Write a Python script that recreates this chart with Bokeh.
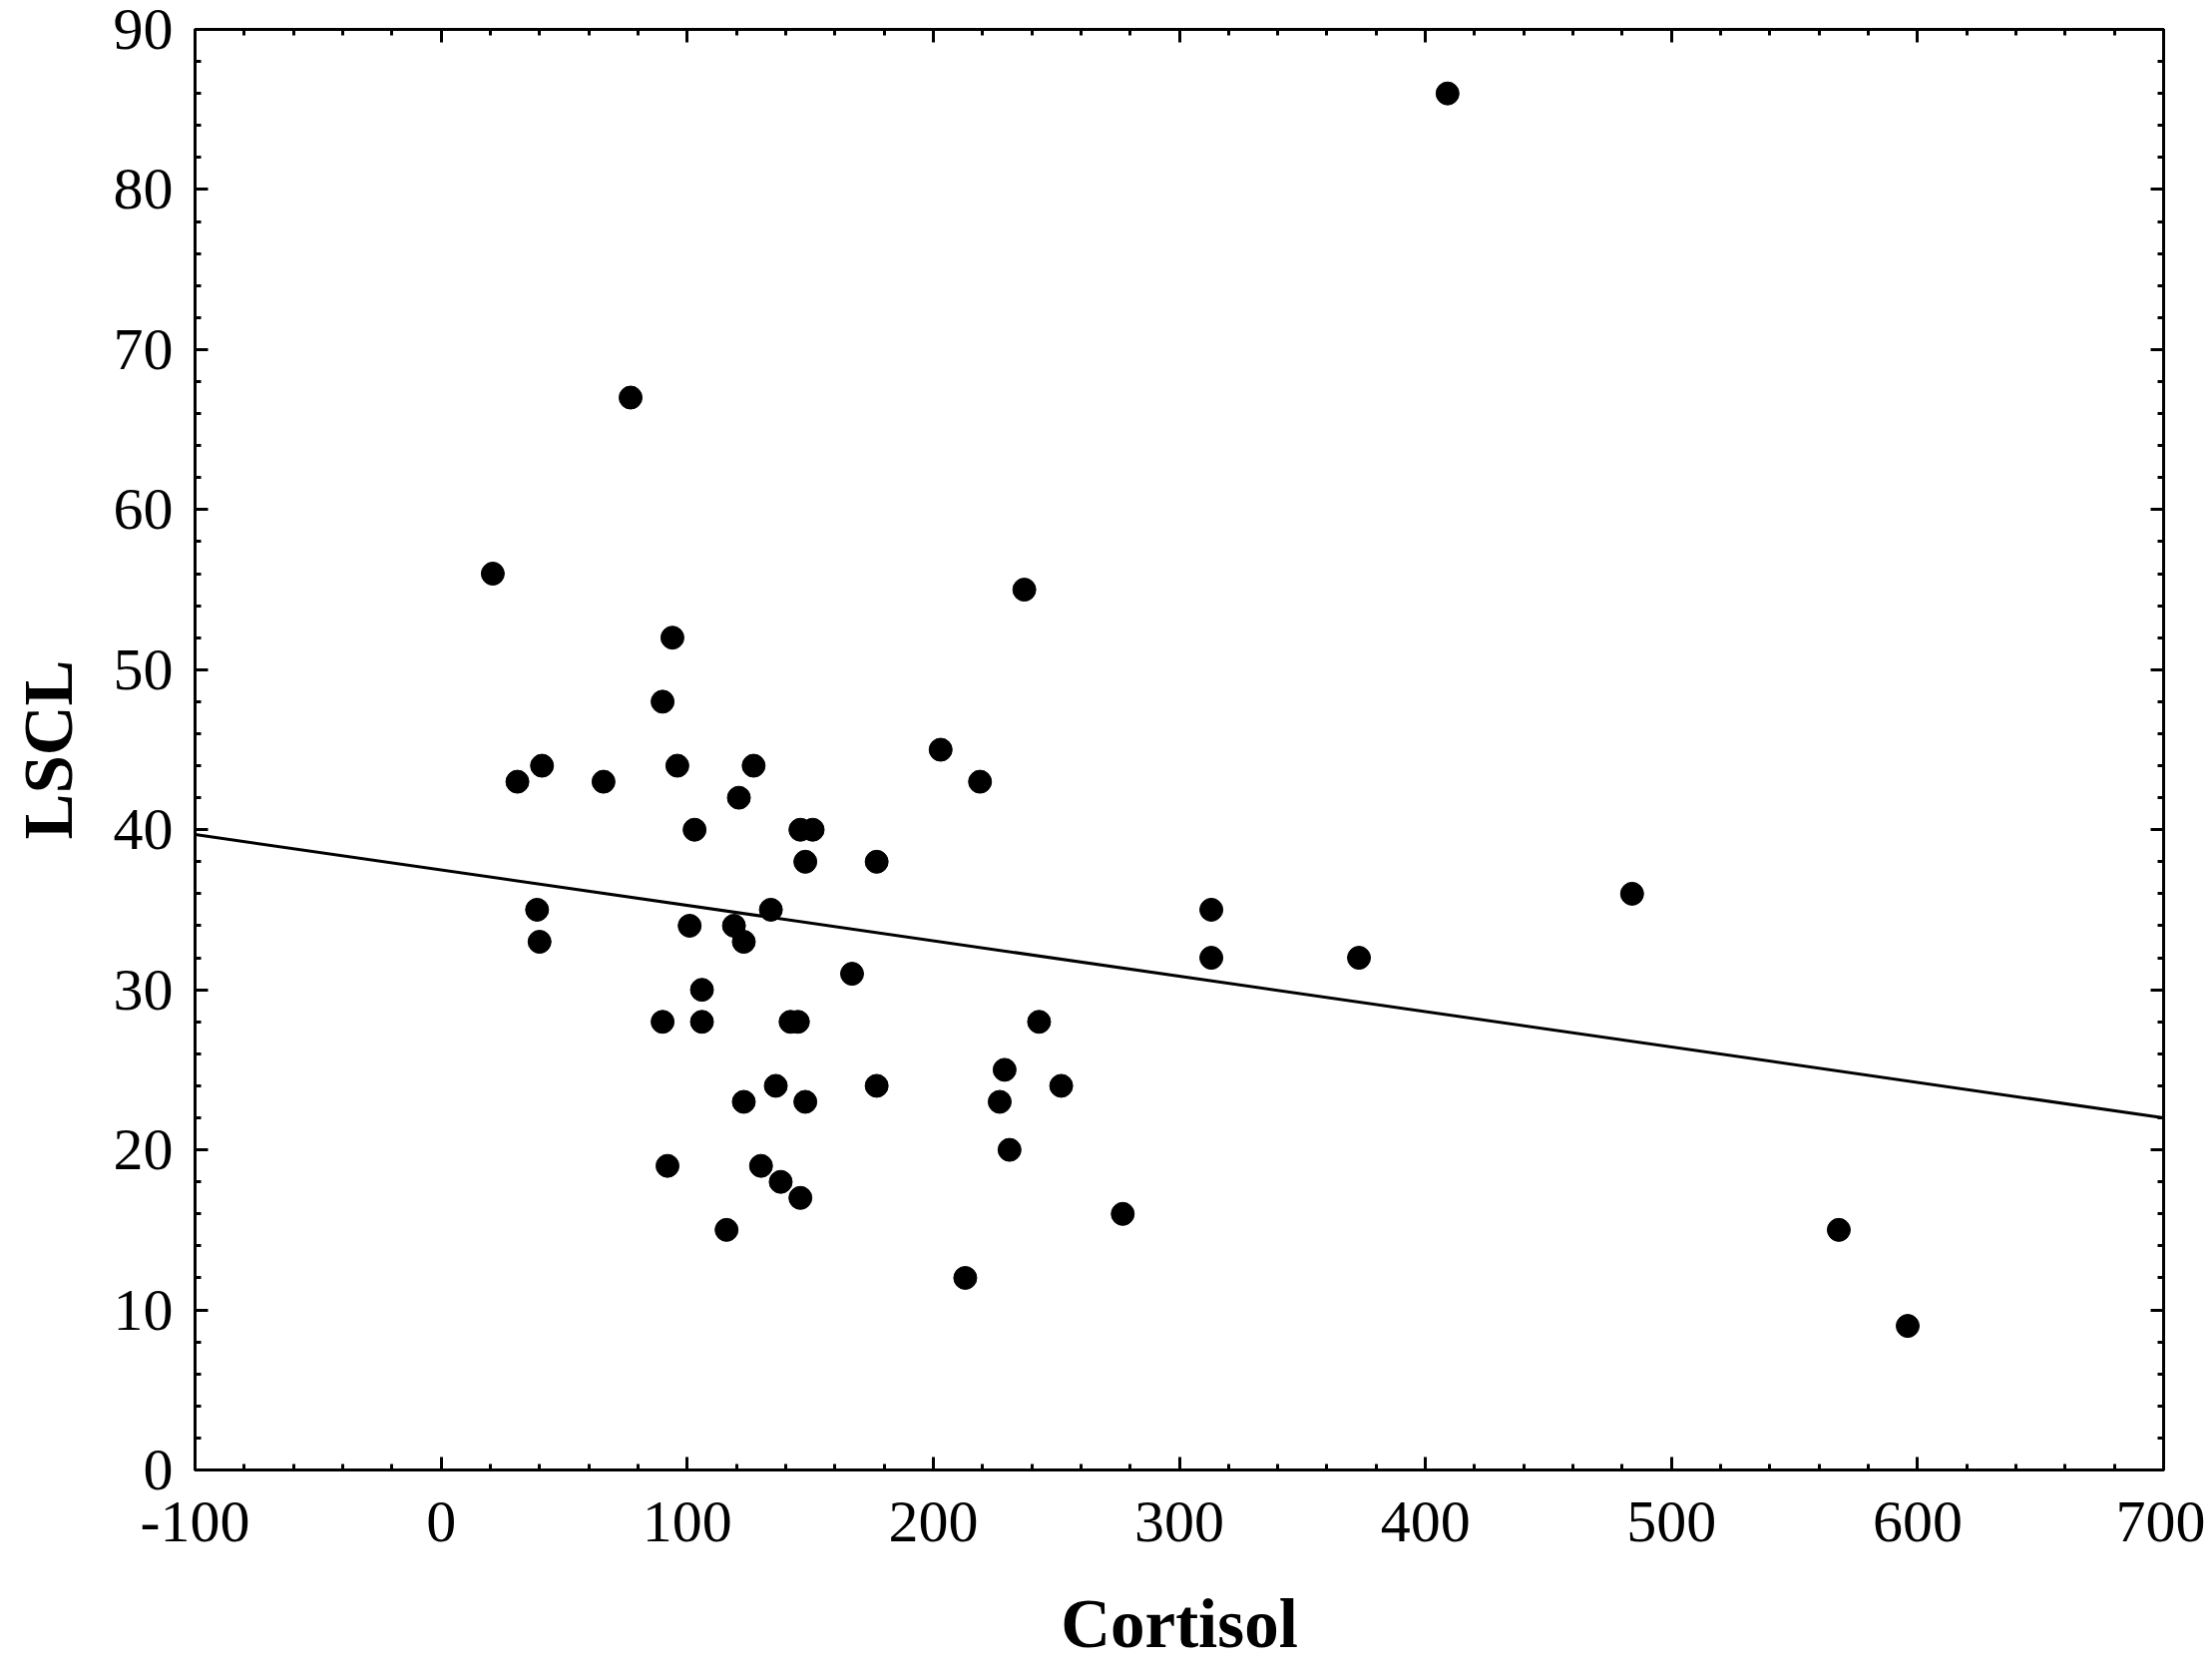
from bokeh.plotting import figure
from bokeh.models import Range1d, LinearAxis, SingleIntervalTicker, CustomJSTickFormatter
from bokeh.embed import file_html
from bokeh.resources import INLINE

# Data
cortisol = [21, 77, 409, 31, 41, 66, 39, 40, 94, 90, 96, 103, 101, 106, 106, 90, 92,
            121, 127, 119, 123, 134, 146, 151, 148, 177, 123, 136, 142, 145, 148, 130,
            138, 146, 116, 167, 177, 203, 219, 237, 243, 229, 227, 252, 231, 213, 277,
            313, 313, 373, 484, 568, 596]
lscl = [56, 67, 86, 43, 44, 43, 35, 33, 52, 48, 44, 40, 34, 30, 28, 28, 19,
        42, 44, 34, 33, 35, 40, 40, 38, 38, 23, 24, 28, 28, 23, 19,
        18, 17, 15, 31, 24, 45, 43, 55, 28, 25, 23, 24, 20, 12, 16,
        35, 32, 32, 36, 15, 9]
fit_x = [-100, 700]
fit_y = [39.7, 22.0]

FONT = "Liberation Serif"

p = figure(width=2210, height=1670, output_backend="svg", toolbar_location=None,
           x_range=Range1d(-100, 700), y_range=Range1d(0, 90),
           min_border_left=195, min_border_right=42, min_border_top=29, min_border_bottom=197,
           x_axis_label="Cortisol", y_axis_label="LSCL")
p.grid.visible = False
p.background_fill_color = "white"
p.border_fill_color = "white"
p.outline_line_color = "black"
p.outline_line_width = 3

p.xaxis.ticker = SingleIntervalTicker(interval=100, num_minor_ticks=5)
p.yaxis.ticker = SingleIntervalTicker(interval=10, num_minor_ticks=5)

def style(ax, labels=True):
    ax.axis_line_width = 3
    ax.axis_line_color = "black"
    ax.major_tick_in = 13
    ax.major_tick_out = 0
    ax.minor_tick_in = 6
    ax.minor_tick_out = 0
    ax.major_tick_line_width = 3
    ax.minor_tick_line_width = 3
    ax.major_tick_line_color = "black"
    ax.minor_tick_line_color = "black"
    if labels:
        ax.major_label_text_font = FONT
        ax.major_label_text_font_size = "60px"
        ax.major_label_text_color = "black"
        ax.axis_label_text_font = FONT
        ax.axis_label_text_font_size = "69px"
        ax.axis_label_text_font_style = "bold"
        ax.axis_label_text_color = "black"
    else:
        ax.formatter = CustomJSTickFormatter(code="return ''")
        ax.major_label_standoff = 0

for ax in p.xaxis:
    style(ax)
    ax.major_label_standoff = 32
    ax.axis_label_standoff = 42
    ax.major_label_overrides = {-100: "-100"}
for ax in p.yaxis:
    style(ax)
    ax.major_label_standoff = 22
    ax.axis_label_standoff = 24

top = LinearAxis(ticker=SingleIntervalTicker(interval=100, num_minor_ticks=5))
style(top, labels=False)
p.add_layout(top, "above")
right = LinearAxis(ticker=SingleIntervalTicker(interval=10, num_minor_ticks=5))
style(right, labels=False)
p.add_layout(right, "right")

p.line(fit_x, fit_y, line_color="black", line_width=3)
p.scatter(cortisol, lscl, size=23, marker="circle", fill_color="black", line_color="black")

open("out.html", "w").write(file_html(p, INLINE))
